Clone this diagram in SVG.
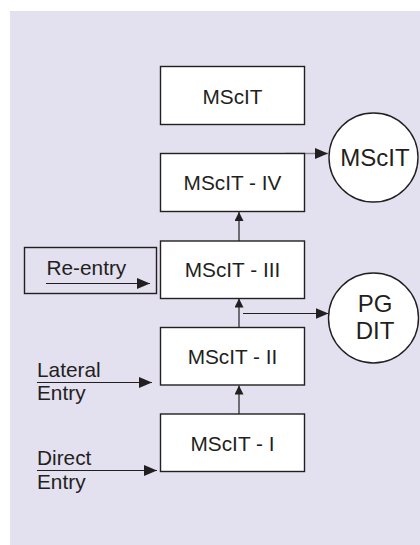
<svg xmlns="http://www.w3.org/2000/svg" width="420" height="545" viewBox="0 0 420 545">
<style>
.bg{fill:#e3e0ef}
.box{fill:#fff;stroke:#231f20;stroke-width:1.4}
.rbox{fill:none;stroke:#231f20;stroke-width:1.4}
.t{font-family:"Liberation Sans",Arial,sans-serif;font-size:20.8px;fill:#231f20}
.tc{text-anchor:middle}
.big{font-size:24px}
.ln{stroke:#231f20;stroke-width:1.2;fill:none}
.gl{stroke:#8a8a8a;stroke-width:1.4;fill:none}
</style>
<defs>
<marker id="ah" markerUnits="userSpaceOnUse" markerWidth="13" markerHeight="11" refX="13" refY="5.5" orient="auto">
<polygon points="0,0 13,5.5 0,11" fill="#231f20"/>
</marker>
<marker id="av" markerUnits="userSpaceOnUse" markerWidth="9" markerHeight="9" refX="9" refY="4.5" orient="auto">
<polygon points="0,0 9,4.5 0,9" fill="#231f20"/>
</marker>
</defs>
<rect class="bg" x="10" y="11" width="410" height="534"/>

<g id="connectors">
<line class="gl" x1="285" y1="153.5" x2="328" y2="153.5" marker-end="url(#ah)"/>
<line class="ln" x1="239" y1="241" x2="239" y2="212" marker-end="url(#av)"/>
<line class="ln" x1="239" y1="327" x2="239" y2="298.5" marker-end="url(#av)"/>
<line class="ln" x1="243" y1="313.5" x2="328.5" y2="313.5" marker-end="url(#ah)"/>
<line class="ln" x1="239" y1="414" x2="239" y2="385.5" marker-end="url(#av)"/>
<line class="ln" x1="46" y1="283.5" x2="150" y2="283.5" marker-end="url(#ah)"/>
<line class="ln" x1="37" y1="382.5" x2="152" y2="382.5" marker-end="url(#ah)"/>
<line class="ln" x1="37" y1="470.5" x2="157" y2="470.5" marker-end="url(#ah)"/>
</g>

<g id="msc-top">
<rect class="box" x="160.5" y="66.5" width="144" height="58"/>
<text class="t tc" x="232.5" y="104">MScIT</text>
</g>
<g id="msc-iv">
<rect class="box" x="160.5" y="153.5" width="144" height="58"/>
<text class="t tc" x="232.5" y="190">MScIT - IV</text>
</g>
<g id="msc-iii">
<rect class="box" x="160.5" y="241" width="144" height="57.5"/>
<text class="t tc" x="232.5" y="277">MScIT - III</text>
</g>
<g id="msc-ii">
<rect class="box" x="160.5" y="327.5" width="144" height="57.5"/>
<text class="t tc" x="232.5" y="363.5">MScIT - II</text>
</g>
<g id="msc-i">
<rect class="box" x="160.5" y="414" width="144" height="57.5"/>
<text class="t tc" x="232.5" y="451">MScIT - I</text>
</g>
<g id="circle-msc">
<circle class="box" cx="373.5" cy="157.5" r="44.5"/>
<text class="t tc big" x="375" y="166">MScIT</text>
</g>
<g id="circle-pgdit">
<circle class="box" cx="373.5" cy="318" r="45"/>
<text class="t tc big" x="375" y="312">PG</text>
<text class="t tc big" x="375" y="339">DIT</text>
</g>
<g id="reentry">
<rect class="rbox" x="24.5" y="247.5" width="132" height="46"/>
<text class="t" x="46.5" y="275">Re-entry</text>
</g>
<g id="lateral">
<text class="t" x="37" y="376.5">Lateral</text>
<text class="t" x="37" y="400">Entry</text>
</g>
<g id="direct">
<text class="t" x="37" y="465">Direct</text>
<text class="t" x="37" y="488.5">Entry</text>
</g>
</svg>
